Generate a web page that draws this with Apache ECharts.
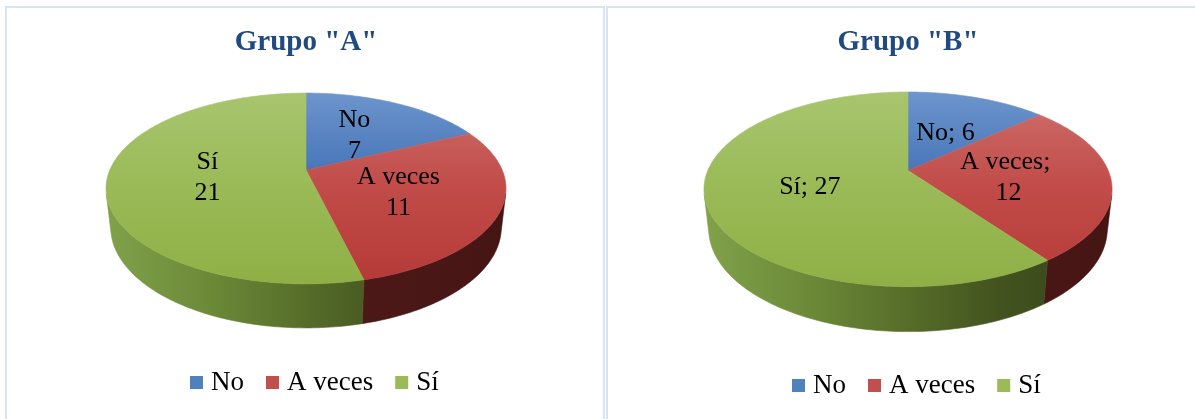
<!DOCTYPE html>
<html>
<head>
<meta charset="utf-8">
<script src="https://cdn.jsdelivr.net/npm/echarts@6/dist/echarts.min.js"></script>
<style>
  html, body { margin: 0; padding: 0; background: #ffffff; }
  #chart { width: 1195px; height: 419px; }
</style>
</head>
<body>
<div id="chart"></div>
<script>
// Answers per group
const categories = ['No', 'A veces', 'Sí'];
const grupoA = [7, 11, 21];
const grupoB = [6, 12, 27];
const groupTitles = ['Grupo "A"', 'Grupo "B"'];
const groupValues = [grupoA, grupoB];

// Slice label text for each group
const labelFormats = [
  (name, v) => name + '\n' + v,
  (name, v) => name + '; ' + v
];

// Office-style palette: flat colour, lit top face, shaded rim
const baseColors = ['#4f81bd', '#c0504d', '#9bbb59'];
const topStops = [
  [{ offset: 0, color: '#6d95cd' }, { offset: 0.45, color: '#4473b6' }, { offset: 1, color: '#3565a8' }],
  [{ offset: 0, color: '#d27673' }, { offset: 0.2, color: '#c8605d' }, { offset: 0.5, color: '#c14b48' }, { offset: 1, color: '#b53a37' }],
  [{ offset: 0, color: '#a8c56f' }, { offset: 0.5, color: '#9aba57' }, { offset: 1, color: '#8faf46' }]
];
const sideStops = [
  [{ offset: 0, color: '#4a70a5' }, { offset: 0.5, color: '#2d4a78' }, { offset: 1, color: '#1e3354' }],
  [{ offset: 0, color: '#5a1f1e' }, { offset: 0.5, color: '#4f1a19' }, { offset: 1, color: '#451514' }],
  [{ offset: 0, color: '#80a04a' }, { offset: 0.25, color: '#6c8a38' }, { offset: 0.5, color: '#566d29' }, { offset: 0.72, color: '#43541f' }, { offset: 1, color: '#34421a' }]
];

// Where each pie sits, and the 3D view (tilt, perspective, thickness)
const pies = [
  { cx: 306, cy: 170, s: 196.2, titleX: 306, legendX: 190, legendY: 369 },
  { cx: 908, cy: 170.5, s: 200.2, titleX: 908, legendX: 792, legendY: 372 }
];
const TILT = 27.9 * Math.PI / 180;
const PERSP = 0.219;
const DEPTH = 0.226;
const SIN = Math.sin(TILT), COS = Math.cos(TILT);
// rim faces the viewer only where cos(angle) < -PERSP / COS
const SIDE_FROM = Math.acos(-PERSP / COS);
const SIDE_TO = 2 * Math.PI - SIDE_FROM;

function project(p, X, Y, Z) {
  const w = 1 - PERSP * (Y * SIN + Z * COS);
  return [p.cx + p.s * X / w, p.cy - p.s * (Y * COS - Z * SIN) / w];
}
function rim(p, a, Y, r) {
  r = r == null ? 1 : r;
  return project(p, r * Math.sin(a), Y, -r * Math.cos(a));
}
function arc(p, a0, a1, Y) {
  const n = Math.max(2, Math.ceil(Math.abs(a1 - a0) / (Math.PI / 180)));
  const pts = [];
  for (let j = 0; j <= n; j++) pts.push(rim(p, a0 + (a1 - a0) * j / n, Y));
  return pts;
}
const sum = arr => arr.reduce((a, b) => a + b, 0);

function renderSlice(params, api) {
  const g = params.dataIndex;
  const i = params.seriesIndex;
  const vals = groupValues[g];
  const p = pies[g];
  const v = api.value(0);
  const total = sum(vals);
  const before = sum(vals.slice(0, i));
  const a0 = before / total * 2 * Math.PI;
  const a1 = (before + v) / total * 2 * Math.PI;
  const children = [];

  // outer rim (front part only)
  const s0 = Math.max(a0, SIDE_FROM), s1 = Math.min(a1, SIDE_TO);
  if (s1 > s0) {
    const pts = arc(p, s0, s1, 0).concat(arc(p, s1, s0, -DEPTH));
    const sg = new echarts.graphic.LinearGradient(p.cx - p.s, 0, p.cx + p.s, 0, sideStops[i], true);
    children.push({ type: 'polygon', shape: { points: pts }, style: { fill: sg, stroke: sg, lineWidth: 0.6 } });
  }

  // top face
  const topPts = [project(p, 0, 0, 0)].concat(arc(p, a0, a1, 0));
  const yTop = rim(p, 0, 0)[1], yBot = rim(p, Math.PI, 0)[1];
  const tg = new echarts.graphic.LinearGradient(0, yTop, 0, yBot, topStops[i], true);
  children.push({ type: 'polygon', shape: { points: topPts }, style: { fill: tg, stroke: tg, lineWidth: 0.6 } });

  // value label, half way out along the slice's middle
  const m = rim(p, (a0 + a1) / 2, 0, 0.5);
  children.push({
    type: 'text', x: m[0], y: m[1] + 2, z2: 100,
    style: {
      text: labelFormats[g](categories[i], v),
      fill: '#000000',
      font: '26px "Liberation Serif"',
      align: 'center', verticalAlign: 'middle',
      lineHeight: 31, width: 112, overflow: 'break'
    }
  });
  return { type: 'group', children: children };
}

const chart = echarts.init(document.getElementById('chart'), null, { renderer: 'canvas' });

const option = {
  animation: false,
  backgroundColor: '#ffffff',
  graphic: [
    { type: 'rect', shape: { x: 6, y: 7, width: 598, height: 440 }, style: { fill: 'none', stroke: '#d9e4f1', lineWidth: 2 } },
    { type: 'rect', shape: { x: 607, y: 7, width: 620, height: 440 }, style: { fill: 'none', stroke: '#d9e4f1', lineWidth: 2 } }
  ].concat(groupTitles.map((t, g) => ({
    type: 'text', x: pies[g].titleX, y: 43, z: 10,
    style: { text: t, fill: '#214b7f', font: 'bold 29px "Liberation Serif"', align: 'center', verticalAlign: 'middle' }
  }))),
  legend: pies.map(p => ({
    data: categories,
    left: p.legendX, top: p.legendY,
    padding: 0,
    orient: 'horizontal',
    icon: 'rect', itemWidth: 13, itemHeight: 13, itemGap: 22,
    selectedMode: false,
    textStyle: { fontFamily: 'Liberation Serif', fontSize: 27, color: '#000000', padding: [0, 0, 0, 3] }
  })),
  series: categories.map((name, i) => ({
    type: 'custom',
    name: name,
    coordinateSystem: 'none',
    silent: true,
    itemStyle: { color: baseColors[i] },
    data: groupValues.map(vals => vals[i]),
    renderItem: renderSlice
  }))
};

chart.setOption(option);
</script>
</body>
</html>
